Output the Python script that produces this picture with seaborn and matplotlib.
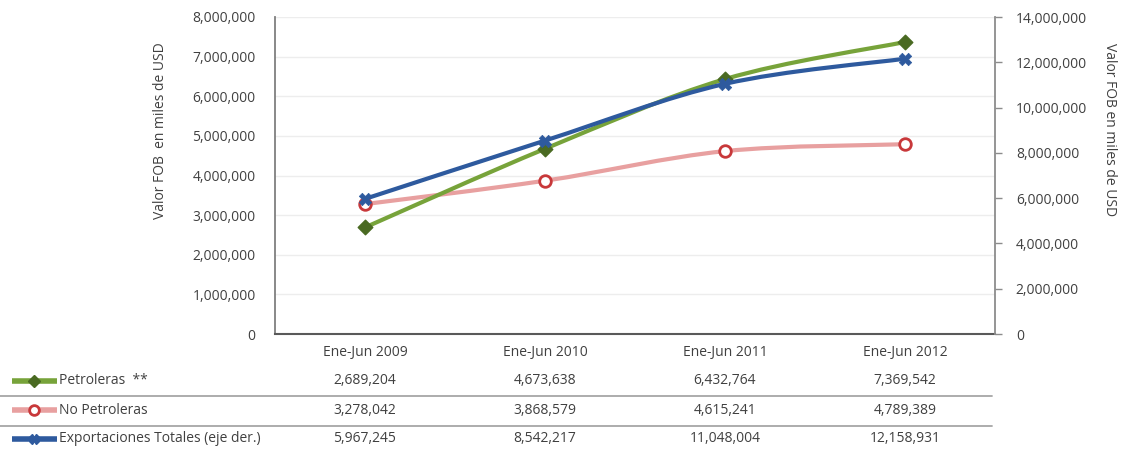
import matplotlib
matplotlib.use("Agg")
import matplotlib.pyplot as plt
from matplotlib.path import Path
from matplotlib.patches import PathPatch
from matplotlib.lines import Line2D
from matplotlib.ticker import FuncFormatter, MultipleLocator
from matplotlib.transforms import blended_transform_factory
import seaborn as sns
import pandas as pd

periods = ["Ene-Jun 2009", "Ene-Jun 2010", "Ene-Jun 2011", "Ene-Jun 2012"]
petroleras = [2689204, 4673638, 6432764, 7369542]
no_petroleras = [3278042, 3868579, 4615241, 4789389]
exportaciones = [5967245, 8542217, 11048004, 12158931]
series_names = ["Petroleras  **", "No Petroleras", "Exportaciones Totales (eje der.)"]

GREEN, GREEN_DARK = "#77A33A", "#4A6A22"
PINK, RED = "#E8A0A0", "#C8383A"
BLUE = "#2E5A9E"
TEXT = "#404040"

sns.set_style("white")
plt.rcParams["font.family"] = ["Open Sans", "DejaVu Sans"]
plt.rcParams["font.size"] = 10

fig = plt.figure(figsize=(11.21, 4.51), dpi=100)
ax = fig.add_axes([275 / 1121, 1 - 334 / 451, 720 / 1121, 317 / 451])
ax2 = ax.twinx()

idx = list(range(len(periods)))
df = pd.DataFrame({"idx": idx, "pet": petroleras, "nopet": no_petroleras, "tot": exportaciones})


def smooth_path(xs, ys):
    """Cubic Bezier through the points (Catmull-Rom style tangents)."""
    pts = list(zip(xs, ys))
    verts = [pts[0]]
    codes = [Path.MOVETO]
    n = len(pts)
    for i in range(n - 1):
        p0 = pts[i - 1] if i > 0 else pts[i]
        p1 = pts[i]
        p2 = pts[i + 1]
        p3 = pts[i + 2] if i + 2 < n else pts[i + 1]
        c1 = (p1[0] + (p2[0] - p0[0]) / 6, p1[1] + (p2[1] - p0[1]) / 6)
        c2 = (p2[0] - (p3[0] - p1[0]) / 6, p2[1] - (p3[1] - p1[1]) / 6)
        verts += [c1, c2, p2]
        codes += [Path.CURVE4] * 3
    return Path(verts, codes)


ax.add_patch(PathPatch(smooth_path(idx, no_petroleras), fill=False, edgecolor=PINK, lw=3, zorder=2))
ax.add_patch(PathPatch(smooth_path(idx, petroleras), fill=False, edgecolor=GREEN, lw=3, zorder=3))
ax2.add_patch(PathPatch(smooth_path(idx, exportaciones), fill=False, edgecolor=BLUE, lw=3, zorder=3))

sns.scatterplot(data=df, x="idx", y="nopet", ax=ax, marker="o", s=70, color="white",
                edgecolor=RED, linewidth=2, zorder=4, legend=False)
sns.scatterplot(data=df, x="idx", y="pet", ax=ax, marker="D", s=55, color=GREEN_DARK,
                edgecolor=GREEN_DARK, linewidth=1, zorder=5, legend=False)
sns.scatterplot(data=df, x="idx", y="tot", ax=ax2, marker="X", s=80, color=BLUE,
                edgecolor=BLUE, linewidth=0.5, zorder=5, legend=False)

fmt = FuncFormatter(lambda v, p: f"{v:,.0f}")
ax.set_xlim(-0.5, 3.5)
ax.set_ylim(0, 8000000)
ax2.set_ylim(0, 14000000)
ax.yaxis.set_major_locator(MultipleLocator(1000000))
ax2.yaxis.set_major_locator(MultipleLocator(2000000))
ax.yaxis.set_major_formatter(fmt)
ax2.yaxis.set_major_formatter(fmt)
ax.set_xticks(idx)
ax.set_xticklabels(periods, color=TEXT, fontsize=10)
ax.tick_params(axis="x", length=0, pad=8)
ax.tick_params(axis="y", length=0, pad=14, colors=TEXT, labelsize=10)
ax2.tick_params(axis="y", length=5, width=1, color="#8C8C8C", pad=10, colors=TEXT, labelsize=10)
ax2.tick_params(axis="y", colors="#8C8C8C", labelcolor=TEXT)
ax.set_xlabel("")
ax.set_ylabel("")
ax2.set_ylabel("")
ax.grid(axis="y", color="#EDEDED", lw=1)
ax.set_axisbelow(True)

for sp in ["top", "right"]:
    ax.spines[sp].set_visible(False)
ax2.spines["top"].set_visible(False)
ax2.spines["left"].set_visible(False)
ax2.spines["bottom"].set_visible(False)
ax.spines["left"].set_color("#7F7F7F")
ax.spines["bottom"].set_color("#595959")
ax.spines["bottom"].set_linewidth(1.5)
ax.spines["left"].set_linewidth(1.3)
ax2.spines["right"].set_color("#8C8C8C")
ax2.spines["right"].set_linewidth(1.3)

fig.text(160 / 1121, 1 - 131 / 451, "Valor FOB  en miles de USD", rotation=90,
         ha="center", va="center", color=TEXT, fontsize=10)
fig.text(1110 / 1121, 1 - 130 / 451, "Valor FOB en miles de USD", rotation=-90,
         ha="center", va="center", color=TEXT, fontsize=10)

# Data table under the chart
tr = blended_transform_factory(ax.transData, fig.transFigure)
rows = [petroleras, no_petroleras, exportaciones]
row_y = [381, 410, 439]
key_styles = [
    dict(color=GREEN, marker="D", markersize=6, markerfacecolor=GREEN_DARK, markeredgecolor=GREEN_DARK),
    dict(color=PINK, marker="o", markersize=7, markerfacecolor="white", markeredgecolor=RED, markeredgewidth=2),
    dict(color=BLUE, marker="X", markersize=7, markerfacecolor=BLUE, markeredgecolor=BLUE),
]
for name, vals, yp, style in zip(series_names, rows, row_y, key_styles):
    yf = 1 - yp / 451
    fig.add_artist(Line2D([12 / 1121, 57 / 1121], [yf, yf], lw=4, solid_capstyle="butt",
                          transform=fig.transFigure, **{k: v for k, v in style.items() if k != "marker"}))
    fig.add_artist(Line2D([34 / 1121], [yf], lw=0, transform=fig.transFigure, **style))
    fig.text(59 / 1121, yf, name, ha="left", va="center", color=TEXT, fontsize=10)
    for i, v in enumerate(vals):
        ax.text(i, yf, f"{v:,}", transform=tr, ha="center", va="center", color=TEXT, fontsize=10)

for yp in [396, 426]:
    yf = 1 - yp / 451
    fig.add_artist(Line2D([0, 992 / 1121], [yf, yf], color="#A6A6A6", lw=1.3, transform=fig.transFigure))

fig.savefig("out.png", dpi=100)
